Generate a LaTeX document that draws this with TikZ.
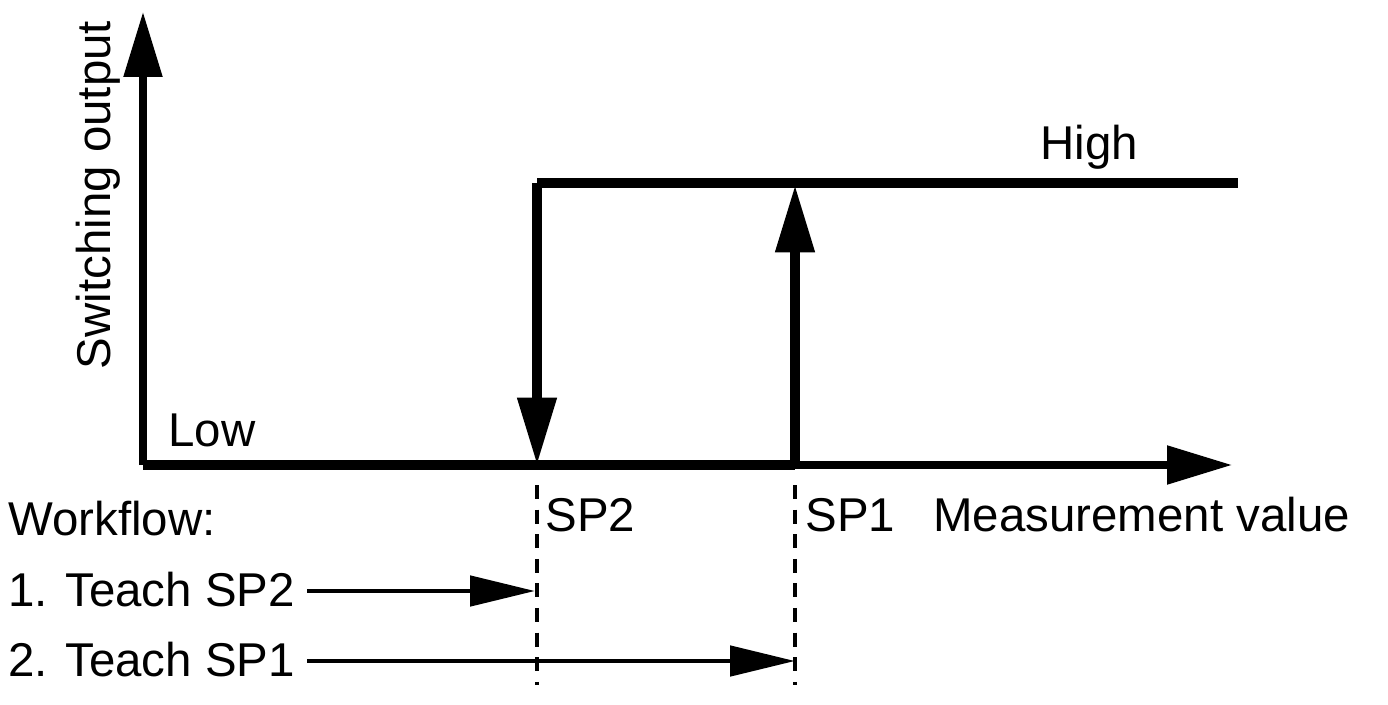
\documentclass[tikz,border=0pt]{standalone}
\usepackage{fontspec}
\setmainfont{Liberation Sans}
\usetikzlibrary{arrows.meta}
\tikzset{
  lbl/.style={inner sep=0pt, font=\fontsize{27}{30}\selectfont},
  axis/.style={line width=4pt, -{Triangle[length=1.3cm, width=0.75cm]}},
  curve/.style={line width=5.5pt},
  stepin/.style={line width=5.5pt, -{Triangle[length=1.35cm, width=0.75cm]}},
  teach/.style={line width=2.8pt, -{Triangle[length=1.3cm, width=0.6cm]}},
  guide/.style={line width=2pt, dash pattern=on 8pt off 6pt}
}
\begin{document}
\begin{tikzpicture}[x=0.02cm, y=-0.02cm]
  \useasboundingbox (0,0) rectangle (1388,705);

  % axes
  \coordinate (O) at (143,465);
  \coordinate (ytop) at (143,12);
  \coordinate (xend) at (1232,465);
  \draw[axis] (O) -- (ytop);
  \draw[axis] (O) -- (xend);

  % switching curve
  \coordinate (sp2hi) at (537,183);
  \coordinate (sp2lo) at (537,465);
  \coordinate (sp1lo) at (795,465);
  \coordinate (sp1hi) at (795,185);
  \coordinate (hiend) at (1238,183);
  \draw[curve] (O) -- (sp1lo);
  \draw[curve] (sp2hi) -- (hiend);
  \draw[stepin] (sp2hi) -- (sp2lo);
  \draw[stepin] (sp1lo) -- (sp1hi);

  % guides
  \coordinate (g2a) at (537,485);
  \coordinate (g2b) at (537,685);
  \coordinate (g1a) at (795,485);
  \coordinate (g1b) at (795,685);
  \draw[guide] (g2a) -- (g2b);
  \draw[guide] (g1a) -- (g1b);

  % labels
  \node[lbl, rotate=90, anchor=base] (ylab) at (110,195) {Switching output};
  \node[lbl, anchor=base west] (low) at (168,446) {Low};
  \node[lbl, anchor=base west] (high) at (1040,160) {High};
  \node[lbl, anchor=base west] (sp2) at (545,531) {SP2};
  \node[lbl, anchor=base west] (sp1) at (805,531) {SP1};
  \node[lbl, anchor=base west] (mv) at (933,531) {Measurement value};
  \node[lbl, anchor=base west] (wf) at (8,535) {Workflow:};
  \node[lbl, anchor=base west] (t2) at (8,606) {1. Teach SP2};
  \node[lbl, anchor=base west] (t1) at (8,676) {2. Teach SP1};

  % workflow arrows
  \coordinate (a2) at (535,591);
  \coordinate (a1) at (795,661);
  \draw[teach] (t2.east |- a2) ++(12,0) -- (a2);
  \draw[teach] (t1.east |- a1) ++(12,0) -- (a1);
\end{tikzpicture}
\end{document}
